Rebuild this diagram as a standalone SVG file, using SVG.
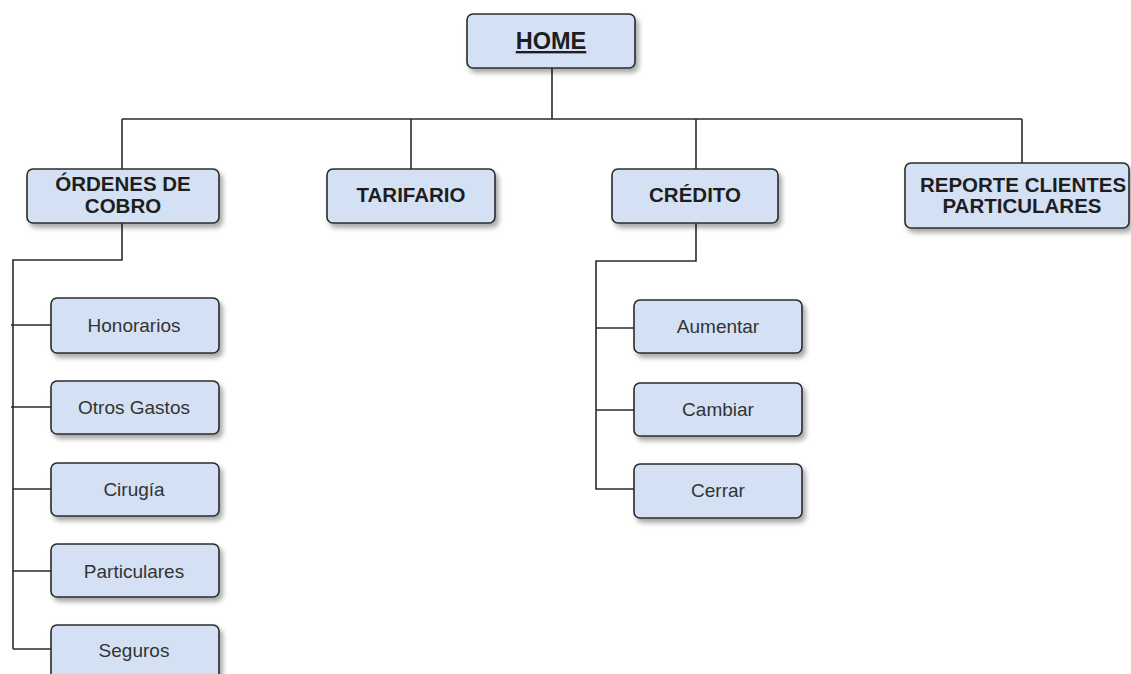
<svg xmlns="http://www.w3.org/2000/svg" width="1131" height="674" viewBox="0 0 1131 674">
<defs>
<filter id="sh" x="-10%" y="-20%" width="130%" height="160%">
<feDropShadow dx="3" dy="4" stdDeviation="2.5" flood-color="#000" flood-opacity="0.35"/>
</filter>
</defs>
<style>
.box{fill:#d4e1f5;stroke:#2b2b2b;stroke-width:1.6;filter:url(#sh)}
.b{font-family:"Liberation Sans",Arial,sans-serif;font-weight:bold;font-size:20.5px;fill:#1e1e1e;text-anchor:middle}
.h{font-size:23.5px;text-decoration:underline}
.n{font-family:"Liberation Sans",Arial,sans-serif;font-size:19px;fill:#333;text-anchor:middle}
.c{fill:none;stroke:#2b2b2b;stroke-width:1.6}
</style>
<rect width="1131" height="674" fill="#fff"/>
<g id="connectors" class="c">
<path d="M552 68V119M122 119H1022M122 119V169M411 119V169M696 119V169M1022 119V163"/>
<path d="M122 223V260H13V649M11 325H51M11 407H51M13 489H51M13 571H51M13 649H51"/>
<path d="M696 223V261H596V489H634M596 328H634M596 410H634"/>
</g>
<g id="home"><rect class="box" x="467" y="14" width="168" height="54" rx="6"/><text class="b h" x="551" y="49">HOME</text></g>
<g id="ordenes"><rect class="box" x="27" y="169" width="192" height="54" rx="6"/><text class="b" x="123" y="191">ÓRDENES DE</text><text class="b" x="123" y="213">COBRO</text></g>
<g id="tarifario"><rect class="box" x="327" y="169" width="168" height="54" rx="6"/><text class="b" x="411" y="202">TARIFARIO</text></g>
<g id="credito"><rect class="box" x="612" y="169" width="166" height="54" rx="6"/><text class="b" x="695" y="202">CRÉDITO</text></g>
<g id="reporte"><rect class="box" x="905" y="163" width="224" height="65" rx="6"/><text class="b" x="1023" y="192">REPORTE CLIENTES</text><text class="b" x="1022" y="213">PARTICULARES</text></g>
<g id="honorarios"><rect class="box" x="51" y="298" width="168" height="55" rx="6"/><text class="n" x="134" y="332">Honorarios</text></g>
<g id="otros"><rect class="box" x="51" y="381" width="168" height="53" rx="6"/><text class="n" x="134" y="414">Otros Gastos</text></g>
<g id="cirugia"><rect class="box" x="51" y="463" width="168" height="53" rx="6"/><text class="n" x="134" y="496">Cirugía</text></g>
<g id="particulares"><rect class="box" x="51" y="544" width="168" height="53" rx="6"/><text class="n" x="134" y="578">Particulares</text></g>
<g id="seguros"><rect class="box" x="51" y="625" width="168" height="60" rx="6"/><text class="n" x="134" y="657">Seguros</text></g>
<g id="aumentar"><rect class="box" x="634" y="300" width="168" height="53" rx="6"/><text class="n" x="718" y="333">Aumentar</text></g>
<g id="cambiar"><rect class="box" x="634" y="383" width="168" height="53" rx="6"/><text class="n" x="718" y="416">Cambiar</text></g>
<g id="cerrar"><rect class="box" x="634" y="464" width="168" height="54" rx="6"/><text class="n" x="718" y="497">Cerrar</text></g>
</svg>
